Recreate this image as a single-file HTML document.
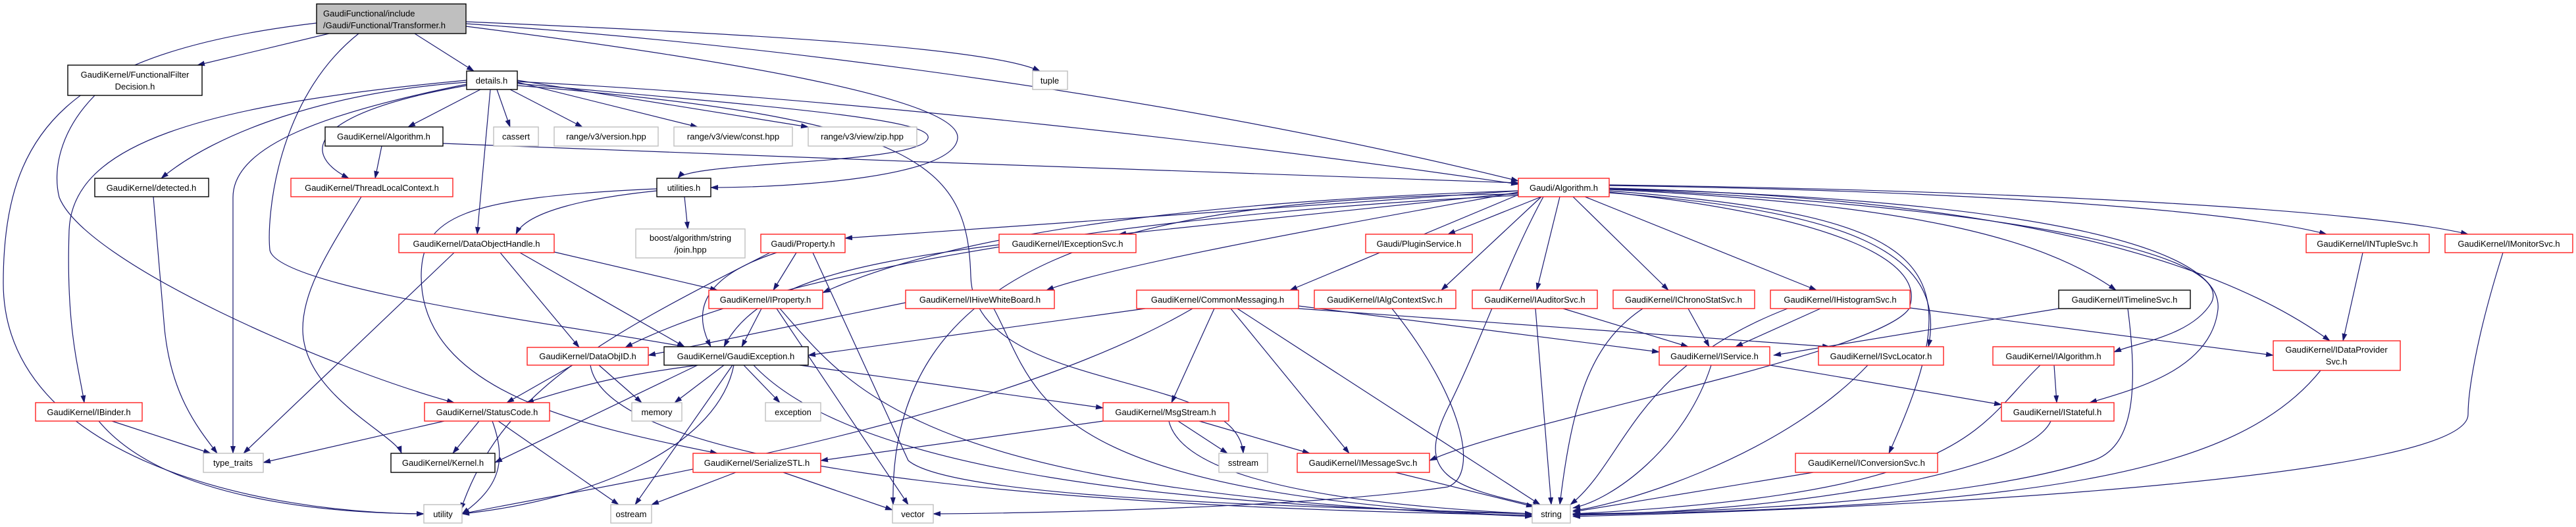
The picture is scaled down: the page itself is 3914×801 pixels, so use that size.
<!DOCTYPE html>
<html><head><meta charset="utf-8"><style>
html,body{margin:0;padding:0;background:#fff;width:3914px;height:801px;overflow:hidden}
svg{display:block}
text{font-family:"Liberation Sans",sans-serif;font-size:13px;fill:#000}
.e{fill:none;stroke:#191970;stroke-width:1.2}
.r{fill:#fff;stroke:#ff2020;stroke-width:1.4}
.b{fill:#fff;stroke:#000;stroke-width:1.4}
.g{fill:#fff;stroke:#bfbfbf;stroke-width:1.4}
</style></head><body>
<svg width="3914" height="801" viewBox="0 0 3914 801" xmlns="http://www.w3.org/2000/svg">
<defs><marker id="a" markerWidth="12" markerHeight="8" refX="11" refY="4" orient="auto" markerUnits="userSpaceOnUse"><path d="M0,0 L12,4 L0,8 z" fill="#191970"/></marker></defs>
<g class="e" marker-end="url(#a)">
<path d="M481,35 C100,80 5,200 5,430 C5,700 400,780 644,781"/>
<path d="M500,51 L300,99"/>
<path d="M630,51 L720,108"/>
<path d="M545,51 C420,150 405,330 410,380 C420,440 900,500 1040,527"/>
<path d="M708,33 C1100,50 1500,70 1580,108"/>
<path d="M708,36 C1200,70 1800,150 2307,275"/>
<path d="M708,40 C1100,90 1460,150 1455,210 C1450,270 1200,285 1080,285"/>
<path d="M730,136 L620,193"/>
<path d="M755,136 L775,193"/>
<path d="M775,136 L885,193"/>
<path d="M786,125 L1060,193"/>
<path d="M786,122 L1228,193"/>
<path d="M709,125 C500,140 330,200 245,271"/>
<path d="M709,130 C480,170 450,230 530,271"/>
<path d="M745,136 L725,356"/>
<path d="M709,122 C300,160 110,220 105,350 C100,500 120,560 128,612"/>
<path d="M709,128 C500,170 354,220 354,300 L354,689"/>
<path d="M786,124 C1300,150 1900,220 2307,280"/>
<path d="M786,127 C1150,160 1420,180 1410,210 C1400,250 1050,245 1030,271"/>
<path d="M786,130 C1400,180 1470,250 1475,420 C1480,600 1880,560 1889,689"/>
<path d="M580,222 L570,271"/>
<path d="M673,218 C1200,240 1800,260 2307,278"/>
<path d="M549,299 C500,380 460,440 460,500 C460,600 600,660 610,689"/>
<path d="M233,299 L250,500 C260,600 300,650 330,689"/>
<path d="M144,145 C90,200 80,260 90,300 C130,400 500,560 690,612"/>
<path d="M1040,299 L1045,348"/>
<path d="M998,290 C900,300 800,320 784,356"/>
<path d="M998,287 C700,300 640,330 640,420 C640,600 900,650 1090,689"/>
<path d="M760,384 L880,528"/>
<path d="M790,384 L1040,527"/>
<path d="M842,383 L1090,441"/>
<path d="M690,384 L370,689"/>
<path d="M1210,384 L1175,441"/>
<path d="M1180,384 C1070,420 1050,470 1080,527"/>
<path d="M1170,384 C900,520 760,600 700,775"/>
<path d="M1235,384 L1380,700 C1450,760 2000,770 2328,781"/>
<path d="M1518,372 C1300,400 1150,430 1100,527"/>
<path d="M1157,469 L1127,527"/>
<path d="M1185,469 C1300,600 1400,750 2328,785"/>
<path d="M1180,469 L1380,767"/>
<path d="M1376,460 L985,540"/>
<path d="M1510,469 C1580,600 1570,750 2328,785"/>
<path d="M1740,469 L1228,540"/>
<path d="M1845,469 L1780,612"/>
<path d="M1870,469 L2050,689"/>
<path d="M1880,469 L2340,767"/>
<path d="M1973,465 L2521,535"/>
<path d="M1973,469 L2780,527"/>
<path d="M1812,469 C1500,650 900,740 702,781"/>
<path d="M1060,555 C950,570 900,580 800,612"/>
<path d="M1100,555 L1025,612"/>
<path d="M1130,555 L1185,612"/>
<path d="M1215,555 L1676,620"/>
<path d="M1060,555 L752,703"/>
<path d="M1115,555 C1090,680 900,760 702,781"/>
<path d="M1113,555 L965,767"/>
<path d="M1145,555 C1300,720 1800,770 2328,781"/>
<path d="M870,555 L770,612"/>
<path d="M910,555 L975,612"/>
<path d="M897,555 C920,700 1500,770 2328,783"/>
<path d="M675,640 L400,703"/>
<path d="M728,640 L688,689"/>
<path d="M748,640 C770,700 760,740 702,781"/>
<path d="M757,640 L940,767"/>
<path d="M170,640 L320,689"/>
<path d="M150,640 C250,760 500,780 644,781"/>
<path d="M1676,640 L1247,700"/>
<path d="M1790,640 L1865,689"/>
<path d="M1822,640 L1990,689"/>
<path d="M1776,640 C1800,740 2100,770 2328,781"/>
<path d="M1118,718 L990,767"/>
<path d="M1190,718 L1356,775"/>
<path d="M2120,718 L2330,770"/>
<path d="M2115,469 C2220,600 2250,720 2200,740 C2000,770 1600,780 1418,781"/>
<path d="M2333,469 L2357,767"/>
<path d="M2375,469 L2565,527"/>
<path d="M2496,469 C2420,520 2390,600 2370,767"/>
<path d="M2565,469 L2597,527"/>
<path d="M2766,469 L2637,527"/>
<path d="M2902,468 L3454,540"/>
<path d="M2716,469 C2480,560 2470,700 2386,767"/>
<path d="M2600,555 C2560,680 2450,760 2390,772"/>
<path d="M2689,555 L3041,615"/>
<path d="M2838,555 C2700,700 2450,770 2390,776"/>
<path d="M2755,718 L2390,778"/>
<path d="M3128,469 L2695,540"/>
<path d="M3233,469 C3250,600 3240,680 3180,700 C3000,760 2600,780 2390,781"/>
<path d="M3121,555 L3125,612"/>
<path d="M3100,555 C3000,650 3000,750 2390,781"/>
<path d="M3116,640 C3080,720 2700,780 2390,782"/>
<path d="M3526,563 C3400,720 3100,770 2390,783"/>
<path d="M3590,384 L3560,518"/>
<path d="M3803,384 C3760,520 3750,600 3750,630 C3750,720 3000,770 2390,785"/>
<path d="M2307,290 L1284,362"/>
<path d="M2307,293 L1700,356"/>
<path d="M2307,290 C2000,300 1500,330 1250,445"/>
<path d="M2307,292 C2100,330 1700,400 1590,441"/>
<path d="M2307,296 L1960,441"/>
<path d="M2342,299 L2190,441"/>
<path d="M2342,299 L2200,356"/>
<path d="M2370,299 L2335,441"/>
<path d="M2390,299 L2535,441"/>
<path d="M2408,299 L2760,441"/>
<path d="M2445,293 C2800,320 2960,380 2930,527"/>
<path d="M2445,290 C2950,330 3000,400 2870,689"/>
<path d="M2445,292 C2800,330 2930,400 2900,470 C2850,540 2300,640 2172,700"/>
<path d="M2345,299 C2290,400 2250,520 2200,620 C2150,720 2200,740 2340,770"/>
<path d="M2307,295 C1700,300 1350,400 1357,767"/>
<path d="M2445,288 C2900,310 3100,360 3215,441"/>
<path d="M2445,287 C3000,310 3400,380 3360,460 C3330,510 3250,520 3212,535"/>
<path d="M2445,287 C3000,300 3380,360 3370,470 C3360,560 3250,590 3175,612"/>
<path d="M2445,286 C3000,300 3350,380 3540,518"/>
<path d="M2445,282 C3000,290 3400,320 3535,356"/>
<path d="M2445,281 C3100,290 3600,320 3750,356"/>
<path d="M2307,297 C1800,320 1200,400 950,528"/>
</g>
<g>
<rect x="481" y="6" width="227" height="45" fill="#bfbfbf" stroke="#000" stroke-width="1.4"/>
<text x="491" y="25">GaudiFunctional/include</text><text x="491" y="43">/Gaudi/Functional/Transformer.h</text>
<rect class="b" x="103" y="99" width="204" height="46"/><text x="205" y="118" text-anchor="middle">GaudiKernel/FunctionalFilter</text><text x="205" y="136" text-anchor="middle">Decision.h</text>
<rect class="b" x="709" y="108" width="77" height="28"/><text x="747" y="127" text-anchor="middle">details.h</text>
<rect class="g" x="1569" y="108" width="53" height="28"/><text x="1595" y="127" text-anchor="middle">tuple</text>
<rect class="b" x="494" y="193" width="179" height="29"/><text x="583" y="212" text-anchor="middle">GaudiKernel/Algorithm.h</text>
<rect class="g" x="750" y="193" width="68" height="29"/><text x="784" y="212" text-anchor="middle">cassert</text>
<rect class="g" x="842" y="193" width="158" height="29"/><text x="921" y="212" text-anchor="middle">range/v3/version.hpp</text>
<rect class="g" x="1024" y="193" width="180" height="29"/><text x="1114" y="212" text-anchor="middle">range/v3/view/const.hpp</text>
<rect class="g" x="1228" y="193" width="165" height="29"/><text x="1310" y="212" text-anchor="middle">range/v3/view/zip.hpp</text>
<rect class="b" x="144" y="271" width="173" height="28"/><text x="230" y="290" text-anchor="middle">GaudiKernel/detected.h</text>
<rect class="r" x="442" y="271" width="246" height="28"/><text x="565" y="290" text-anchor="middle">GaudiKernel/ThreadLocalContext.h</text>
<rect class="b" x="998" y="271" width="82" height="28"/><text x="1039" y="290" text-anchor="middle">utilities.h</text>
<rect class="r" x="2307" y="271" width="138" height="28"/><text x="2376" y="290" text-anchor="middle">Gaudi/Algorithm.h</text>
<rect class="r" x="606" y="356" width="236" height="28"/><text x="724" y="375" text-anchor="middle">GaudiKernel/DataObjectHandle.h</text>
<rect class="g" x="966" y="348" width="166" height="44"/><text x="1049" y="366" text-anchor="middle">boost/algorithm/string</text><text x="1049" y="384" text-anchor="middle">/join.hpp</text>
<rect class="r" x="1156" y="356" width="128" height="28"/><text x="1220" y="375" text-anchor="middle">Gaudi/Property.h</text>
<rect class="r" x="1518" y="356" width="208" height="28"/><text x="1622" y="375" text-anchor="middle">GaudiKernel/IExceptionSvc.h</text>
<rect class="r" x="2075" y="356" width="162" height="28"/><text x="2156" y="375" text-anchor="middle">Gaudi/PluginService.h</text>
<rect class="r" x="3504" y="356" width="187" height="28"/><text x="3597" y="375" text-anchor="middle">GaudiKernel/INTupleSvc.h</text>
<rect class="r" x="3715" y="356" width="194" height="28"/><text x="3812" y="375" text-anchor="middle">GaudiKernel/IMonitorSvc.h</text>
<rect class="r" x="1077" y="441" width="173" height="28"/><text x="1163" y="460" text-anchor="middle">GaudiKernel/IProperty.h</text>
<rect class="r" x="1376" y="441" width="226" height="28"/><text x="1489" y="460" text-anchor="middle">GaudiKernel/IHiveWhiteBoard.h</text>
<rect class="r" x="1727" y="441" width="246" height="28"/><text x="1850" y="460" text-anchor="middle">GaudiKernel/CommonMessaging.h</text>
<rect class="r" x="1997" y="441" width="215" height="28"/><text x="2104" y="460" text-anchor="middle">GaudiKernel/IAlgContextSvc.h</text>
<rect class="r" x="2237" y="441" width="190" height="28"/><text x="2332" y="460" text-anchor="middle">GaudiKernel/IAuditorSvc.h</text>
<rect class="r" x="2451" y="441" width="215" height="28"/><text x="2558" y="460" text-anchor="middle">GaudiKernel/IChronoStatSvc.h</text>
<rect class="r" x="2690" y="441" width="212" height="28"/><text x="2796" y="460" text-anchor="middle">GaudiKernel/IHistogramSvc.h</text>
<rect class="b" x="3128" y="441" width="200" height="28"/><text x="3228" y="460" text-anchor="middle">GaudiKernel/ITimelineSvc.h</text>
<rect class="r" x="801" y="528" width="184" height="27"/><text x="893" y="546" text-anchor="middle">GaudiKernel/DataObjID.h</text>
<rect class="b" x="1009" y="527" width="219" height="28"/><text x="1118" y="546" text-anchor="middle">GaudiKernel/GaudiException.h</text>
<rect class="r" x="2521" y="527" width="168" height="28"/><text x="2605" y="546" text-anchor="middle">GaudiKernel/IService.h</text>
<rect class="r" x="2763" y="527" width="190" height="28"/><text x="2858" y="546" text-anchor="middle">GaudiKernel/ISvcLocator.h</text>
<rect class="r" x="3028" y="527" width="184" height="28"/><text x="3120" y="546" text-anchor="middle">GaudiKernel/IAlgorithm.h</text>
<rect class="r" x="3454" y="518" width="193" height="45"/><text x="3550" y="536" text-anchor="middle">GaudiKernel/IDataProvider</text><text x="3550" y="554" text-anchor="middle">Svc.h</text>
<rect class="r" x="54" y="612" width="162" height="28"/><text x="135" y="631" text-anchor="middle">GaudiKernel/IBinder.h</text>
<rect class="r" x="645" y="612" width="190" height="28"/><text x="740" y="631" text-anchor="middle">GaudiKernel/StatusCode.h</text>
<rect class="g" x="960" y="612" width="76" height="28"/><text x="998" y="631" text-anchor="middle">memory</text>
<rect class="g" x="1163" y="612" width="84" height="28"/><text x="1205" y="631" text-anchor="middle">exception</text>
<rect class="r" x="1676" y="612" width="191" height="28"/><text x="1771" y="631" text-anchor="middle">GaudiKernel/MsgStream.h</text>
<rect class="r" x="3041" y="612" width="171" height="28"/><text x="3126" y="631" text-anchor="middle">GaudiKernel/IStateful.h</text>
<rect class="g" x="309" y="689" width="91" height="29"/><text x="354" y="708" text-anchor="middle">type_traits</text>
<rect class="b" x="594" y="689" width="158" height="29"/><text x="673" y="708" text-anchor="middle">GaudiKernel/Kernel.h</text>
<rect class="r" x="1053" y="689" width="194" height="29"/><text x="1150" y="708" text-anchor="middle">GaudiKernel/SerializeSTL.h</text>
<rect class="g" x="1852" y="689" width="74" height="29"/><text x="1889" y="708" text-anchor="middle">sstream</text>
<rect class="r" x="1971" y="689" width="201" height="29"/><text x="2071" y="708" text-anchor="middle">GaudiKernel/IMessageSvc.h</text>
<rect class="r" x="2728" y="689" width="216" height="29"/><text x="2836" y="708" text-anchor="middle">GaudiKernel/IConversionSvc.h</text>
<rect class="g" x="644" y="767" width="58" height="28"/><text x="673" y="786" text-anchor="middle">utility</text>
<rect class="g" x="928" y="767" width="62" height="28"/><text x="959" y="786" text-anchor="middle">ostream</text>
<rect class="g" x="1356" y="767" width="62" height="28"/><text x="1387" y="786" text-anchor="middle">vector</text>
<rect class="g" x="2328" y="767" width="58" height="28"/><text x="2357" y="786" text-anchor="middle">string</text>
</g>
</svg>
</body></html>
